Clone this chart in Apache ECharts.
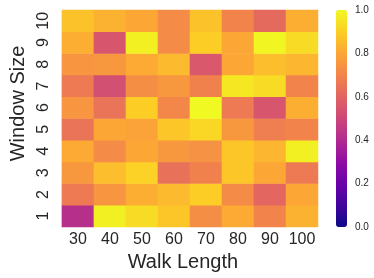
<!DOCTYPE html>
<html><head><meta charset="utf-8">
<script src="https://cdn.jsdelivr.net/npm/echarts@6/dist/echarts.min.js"></script>
<style>html,body{margin:0;padding:0;background:#fff}#c{width:374px;height:278px}</style>
</head><body><div id="c"></div>
<script>
const walkLengths = ['30','40','50','60','70','80','90','100'];
const windowSizes = ['1','2','3','4','5','6','7','8','9','10'];
// rows from window size 1 (bottom) to 10 (top), columns walk length 30..100
const row1  = [0.42, 0.98, 0.93, 0.88, 0.73, 0.81, 0.70, 0.83];
const row2  = [0.67, 0.75, 0.82, 0.85, 0.90, 0.72, 0.61, 0.80];
const row3  = [0.76, 0.86, 0.91, 0.64, 0.69, 0.88, 0.80, 0.67];
const row4  = [0.81, 0.72, 0.80, 0.76, 0.74, 0.88, 0.84, 0.98];
const row5  = [0.65, 0.80, 0.79, 0.88, 0.92, 0.76, 0.68, 0.70];
const row6  = [0.75, 0.65, 0.90, 0.71, 1.00, 0.67, 0.55, 0.82];
const row7  = [0.67, 0.53, 0.73, 0.76, 0.69, 0.96, 0.93, 0.70];
const row8  = [0.75, 0.76, 0.81, 0.85, 0.56, 0.80, 0.86, 0.84];
const row9  = [0.82, 0.55, 0.98, 0.72, 0.90, 0.80, 0.99, 0.93];
const row10 = [0.87, 0.83, 0.80, 0.72, 0.87, 0.70, 0.62, 0.82];
const rows = [row1,row2,row3,row4,row5,row6,row7,row8,row9,row10];
const colorbarTicks = [0, 0.2, 0.4, 0.6, 0.8, 1.0];
const plasma = ['#0d0887','#41049d','#6a00a8','#8f0da4','#b12a90','#cc4778','#e16462','#f2844b','#fca636','#fcce25','#f0f921'];

const data = [];
rows.forEach((r, yi) => r.forEach((v, xi) => data.push([xi, yi, v])));

const txt = '#262626';
const font = 'Liberation Sans, Arial, sans-serif';
const chart = echarts.init(document.getElementById('c'));
chart.setOption({
  backgroundColor: '#fff',
  animation: false,
  textStyle: {fontFamily: font},
  grid: [
    {left: 52, right: 56, top: 10, bottom: 51},
    {left: 336, width: 11, top: 10, height: 217}
  ],
  xAxis: [
    {type: 'category', data: walkLengths, gridIndex: 0,
     axisLine: {show: false}, axisTick: {show: false}, splitLine: {show: false},
     axisLabel: {color: txt, fontSize: 16, margin: 5, interval: 0, hideOverlap: false, fontFamily: font},
     name: 'Walk Length', nameLocation: 'middle', nameGap: 22,
     nameTextStyle: {color: txt, fontSize: 20, fontFamily: font, verticalAlign: 'top', padding: [0, 14, 0, 0]}},
    {type: 'value', gridIndex: 1, show: false, min: 0, max: 1}
  ],
  yAxis: [
    {type: 'category', data: windowSizes, gridIndex: 0,
     axisLine: {show: false}, axisTick: {show: false}, splitLine: {show: false},
     axisLabel: {color: txt, fontSize: 16, rotate: 90, margin: 10, interval: 0, hideOverlap: false, fontFamily: font},
     name: 'Window Size', nameLocation: 'middle', nameGap: 28,
     nameTextStyle: {color: txt, fontSize: 20, fontFamily: font, padding: [0, 0, 0, 30]}},
    {type: 'value', gridIndex: 1, position: 'right', min: 0, max: 1, interval: 0.2,
     axisLine: {show: false}, axisTick: {show: false}, splitLine: {show: false},
     axisLabel: {color: txt, fontSize: 10, margin: 8, fontFamily: font,
       formatter: v => colorbarTicks.includes(Math.round(v*10)/10) ? v.toFixed(1) : ''}}
  ],
  visualMap: {
    type: 'continuous', min: 0, max: 1, calculable: false, seriesIndex: 0,
    orient: 'vertical', left: 336, top: 10, itemWidth: 11, itemHeight: 217,
    padding: 0, text: null, showLabel: false, realtime: false,
    inRange: {color: plasma}
  },
  series: [{
    type: 'heatmap', xAxisIndex: 0, yAxisIndex: 0, data: data,
    itemStyle: {borderWidth: 0},
    emphasis: {disabled: true}, label: {show: false}
  }]
});
</script></body></html>
